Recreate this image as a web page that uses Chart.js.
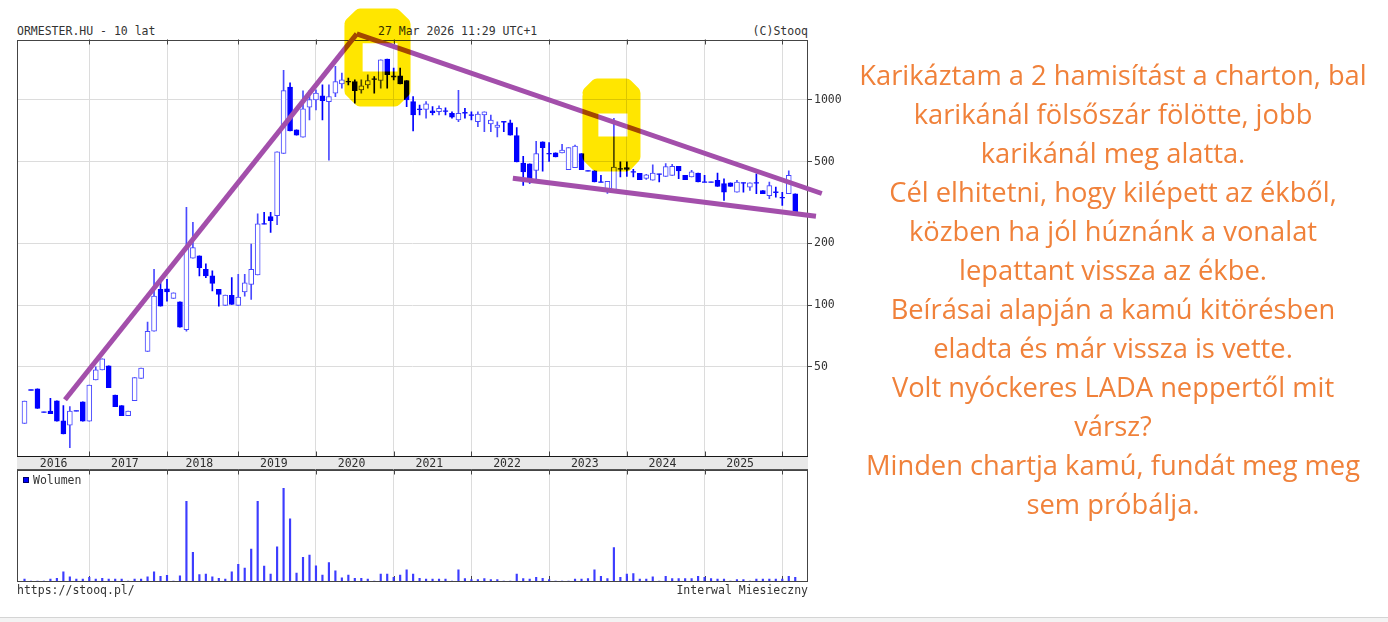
<!DOCTYPE html>
<html>
<head>
<meta charset="utf-8">
<script src="https://cdn.jsdelivr.net/npm/chart.js@4/dist/chart.umd.min.js"></script>
<style>
html, body { margin: 0; padding: 0; background: #fff; }
body { width: 1388px; height: 622px; position: relative; overflow: hidden; }
.mono { position: absolute; font-family: 'DejaVu Sans Mono', monospace; font-size: 11.5px; line-height: 14px; color: #333; white-space: pre; }
#band { position: absolute; left: 17px; top: 456px; width: 791px; height: 12px; background: #e8e8e8; border-top: 1px solid #555; border-bottom: 1px solid #555; }
#priceBox { position: absolute; left: 0; top: 0; width: 860px; height: 470px; mix-blend-mode: multiply; }
#volBox { position: absolute; left: 0; top: 460px; width: 860px; height: 140px; }
#volKey { position: absolute; left: 23px; top: 477px; width: 6px; height: 6px; background: #0000ff; border: 1px solid #000066; box-sizing: border-box; }
#note { position: absolute; left: 818px; top: 55px; width: 590px; text-align: center; color: #f0813a; font-family: 'Open Sans', sans-serif; font-size: 27.3px; line-height: 39px; }
#edge { position: absolute; left: 0; top: 617px; width: 1388px; height: 5px; background: #f3f3f3; border-top: 1px solid #d4d4d4; }
</style>
</head>
<body>
<div class="mono" style="left:17px;top:24px">ORMESTER.HU - 10 lat</div>
<div class="mono" style="left:378px;top:24px">27 Mar 2026 11:29 UTC+1</div>
<div class="mono" style="right:580px;top:24px">(C)Stooq</div>
<div id="band"></div>
<div id="priceBox"><canvas id="priceChart"></canvas></div>
<div id="volBox"><canvas id="volChart"></canvas></div>
<div id="volKey"></div>
<div class="mono" style="left:33px;top:473px">Wolumen</div>
<div class="mono" style="left:17px;top:583px">https://stooq.pl/</div>
<div class="mono" style="right:580px;top:583px">Interwal Miesieczny</div>
<div id="note">Karikáztam a 2 hamisítást a charton, bal<br>karikánál fölsőszár fölötte, jobb<br>karikánál meg alatta.<br>Cél elhitetni, hogy kilépett az ékből,<br>közben ha jól húznánk a vonalat<br>lepattant vissza az ékbe.<br>Beírásai alapján a kamú kitörésben<br>eladta és már vissza is vette.<br>Volt nyóckeres LADA neppertől mit<br>vársz?<br>Minden chartja kamú, fundát meg meg<br>sem próbálja.</div>
<div id="edge"></div>
<script>
// honapok (2018-bol egy honap hianyzik a stooq adatokban)
const months = [
  '2016-03','2016-04','2016-05','2016-06','2016-07','2016-08','2016-09','2016-10','2016-11','2016-12',
  '2017-01','2017-02','2017-03','2017-04','2017-05','2017-06','2017-07','2017-08','2017-09','2017-10','2017-11','2017-12',
  '2018-01','2018-02','2018-03','2018-04','2018-05','2018-06','2018-07','2018-09','2018-10','2018-11','2018-12',
  '2019-01','2019-02','2019-03','2019-04','2019-05','2019-06','2019-07','2019-08','2019-09','2019-10','2019-11','2019-12',
  '2020-01','2020-02','2020-03','2020-04','2020-05','2020-06','2020-07','2020-08','2020-09','2020-10','2020-11','2020-12',
  '2021-01','2021-02','2021-03','2021-04','2021-05','2021-06','2021-07','2021-08','2021-09','2021-10','2021-11','2021-12',
  '2022-01','2022-02','2022-03','2022-04','2022-05','2022-06','2022-07','2022-08','2022-09','2022-10','2022-11','2022-12',
  '2023-01','2023-02','2023-03','2023-04','2023-05','2023-06','2023-07','2023-08','2023-09','2023-10','2023-11','2023-12',
  '2024-01','2024-02','2024-03','2024-04','2024-05','2024-06','2024-07','2024-08','2024-09','2024-10','2024-11','2024-12',
  '2025-01','2025-02','2025-03','2025-04','2025-05','2025-06','2025-07','2025-08','2025-09','2025-10','2025-11','2025-12',
  '2026-01','2026-02','2026-03'
];

const openP = [
  26.5, 38.6, 39.1, 30.1, 30.5, 34.2, 27.3, 26.0, 30.5, 33.8,
  27.2, 43.2, 48.4, 50.6, 36.5, 32.4, 28.9, 34.2, 44.0, 59.5,
  74.6, 119.4, 120.2, 107.9, 103.8, 76.0, 169.4, 173.9, 149.6, 138.8,
  119.4, 99.8, 111.6, 99.8, 116.1, 126.3, 140.3, 248.7, 269.9, 272.9,
  548, 1154, 715, 659, 921, 1000, 1046, 981, 1079, 1198,
  1229, 1229, 1119, 1184, 1263, 1243, 1583, 1301, 1311, 1243,
  981, 900, 900, 884, 876, 881, 861, 798, 866, 844,
  783, 844, 763, 735, 783, 774, 670, 493, 488, 454,
  625, 548, 552, 552, 457, 467, 548, 451, 451, 398,
  362, 365, 461, 468, 446, 439, 415, 406, 435, 424,
  429, 475, 429, 421, 440, 398, 398, 406, 391, 394,
  355, 394, 376, 394, 362, 342, 355, 334, 349, 349
];
const highP = [
  34.1, 38.6, 39.1, 30.1, 35.1, 34.2, 32.4, 32.0, 30.5, 33.8,
  40.8, 50.0, 54.8, 50.6, 36.5, 32.4, 30.5, 44.4, 49.3, 82.6,
  149.6, 134, 133.6, 114.8, 103.8, 300, 253, 173.9, 158.9, 146.9,
  119.4, 111.9, 136.1, 141.4, 141.4, 198.6, 278.6, 283.4, 283.4, 558.3,
  1393, 1211, 715, 1107, 1113, 1119, 1184, 1184, 1456, 1352,
  1277, 1253, 1253, 1326, 1301, 1570, 1583, 1430, 1430, 1243,
  1038, 945, 981, 927, 935, 914, 876, 1113, 911, 876,
  876, 876, 844, 783, 783, 798, 733, 531, 488, 628,
  625, 619, 552, 608, 586, 602, 548, 451, 451, 429,
  401, 813, 499, 499, 459, 439, 434, 483, 435, 489,
  486, 475, 429, 454, 440, 429, 398, 440, 413, 394,
  406, 394, 394, 437, 362, 398, 376, 355, 451, 349
];
const lowP = [
  26.5, 38.6, 31.4, 30.1, 29.6, 27.2, 23.6, 20.2, 30.5, 27.2,
  27.2, 43.2, 48.4, 39.6, 32.0, 28.9, 28.9, 34.2, 44.0, 59.5,
  74.6, 98.9, 104.7, 107.9, 78.0, 74.6, 169.4, 138.8, 136.1, 117.2,
  98.9, 99.8, 100.7, 99.8, 110.7, 106.7, 140.3, 248.7, 225.9, 246.6,
  548, 707, 673, 659, 798, 893, 798, 508, 1038, 1141,
  1184, 963, 1079, 1141, 1079, 1141, 1141, 1253, 1198, 927,
  707, 844, 814, 844, 844, 844, 814, 783, 814, 798,
  741, 700, 700, 661, 700, 674, 499, 383, 392, 406,
  449, 502, 527, 552, 457, 467, 457, 451, 398, 398,
  350, 365, 421, 424, 421, 409, 410, 406, 399, 424,
  429, 413, 409, 421, 398, 398, 398, 379, 324, 379,
  355, 355, 362, 349, 349, 330, 336, 306, 349, 284
];
const closeP = [
  34.1, 38.6, 31.4, 30.1, 29.6, 27.2, 23.6, 30.5, 30.5, 27.2,
  40.8, 48.4, 54.8, 39.6, 32.0, 28.9, 30.5, 44.4, 49.3, 74.6,
  110.7, 98.9, 116.1, 114.8, 78.0, 191, 191, 152.4, 138.8, 127.7,
  112.8, 111.9, 100.7, 109.4, 128.5, 149.6, 248.7, 248.7, 258.2, 558.3,
  1110, 707, 673, 906, 1003, 1079, 992, 1038, 1229, 1253,
  1229, 1110, 1171, 1243, 1263, 1570, 1326, 1301, 1198, 1000,
  844, 900, 956, 866, 911, 881, 823, 861, 866, 844,
  854, 876, 798, 754, 783, 674, 499, 446, 407, 548,
  586, 548, 527, 569, 586, 595, 457, 451, 398, 398,
  401, 471, 461, 459, 446, 409, 431, 440, 435, 473,
  475, 451, 409, 446, 398, 398, 398, 379, 355, 379,
  398, 394, 394, 394, 349, 383, 355, 334, 429, 284
];
// wolumen, relativ egysegben (legnagyobb = 100)
const volume = [
  2, 0, 0, 0, 2, 3, 10, 4.5, 2, 2,
  4, 2, 3, 2, 2, 2, 0, 2, 2, 4.5,
  10, 5, 6, 0, 5.5, 86, 31, 7, 7.5, 4.5,
  3, 2, 10, 18, 14, 34.5, 86, 16, 7.5, 37,
  100, 67, 8.5, 25.5, 28, 16.5, 6.5, 20, 11, 3.5,
  6.5, 3, 3, 2, 0, 7.5, 7.5, 4, 6.5, 12,
  7.5, 3, 2, 2, 2, 2, 0, 12, 2.5, 1.5,
  1.5, 2.5, 1.5, 1.5, 0, 0, 7.5, 2.5, 2, 4,
  3, 1.5, 0, 0, 0, 2, 2, 2.5, 12, 5,
  2.5, 36, 4, 7.5, 8, 2, 2, 4.5, 0, 5,
  2.5, 2.5, 2.5, 2.5, 5, 4, 2.5, 2, 2, 0,
  1.5, 1.5, 0, 2, 2, 2, 2, 2, 5, 4
];

const yTicks = [50, 100, 200, 500, 1000];
const yearLabels = ['2016','2017','2018','2019','2020','2021','2022','2023','2024','2025'];

// kezzel rajzolt jelolesek (honap index, arfolyam)
const trendUpX = [6.25, 51.3],  trendUpY = [34.6, 2097];
const trendTopX = [51.3, 123.1], trendTopY = [2097, 350];
const trendLowX = [75.4, 122.2], trendLowY = [415, 271];
const circle1X = [50.4, 51.8, 57.2, 58.6, 58.6, 57.2, 51.8, 50.4, 50.4, 58.4, 58.4, 51.2, 51.2, 58.4, 58.4, 50.4];
const circle1Y = [2346, 2590, 2590, 2346, 1106, 1000, 1000, 1106, 2290, 2290, 2030, 2030, 1280, 1280, 1120, 1120];
const circle2X = [87.15, 88.4, 92.9, 94.1, 94.1, 92.9, 88.4, 87.15, 87.15, 94.1, 94.1, 87.6, 87.6, 94.1, 94.1, 87.15];
const circle2Y = [1082, 1183, 1183, 1082, 528, 482, 482, 528, 1046, 1046, 925, 925, 617, 617, 546, 546];

// --- segedek ---
const idx = months.map((m, i) => i);
const janIdx = idx.filter(i => months[i].endsWith('-01'));
const yearPos = yearLabels.map(y => {
  const ii = idx.filter(i => months[i].startsWith(y));
  return ii.reduce((a, b) => a + b, 0) / ii.length;
});
const xMin = -1.16, xMax = 120.97;
const monoFont = { family: 'DejaVu Sans Mono', size: 11.5 };
const isUp = i => closeP[i] > openP[i];
const flat = idx.filter(i => closeP[i] === openP[i]);
const solid = idx.filter(i => closeP[i] !== openP[i]);
const pts = (xs, ys) => xs.map((x, k) => ({ x, y: ys[k] }));

// keret + kis evjelolo vonalkak
const framePlugin = {
  id: 'frame',
  beforeDatasetsDraw(chart) {
    const { ctx, chartArea: a } = chart;
    const xs = chart.scales.x;
    ctx.save();
    ctx.strokeStyle = '#444';
    ctx.lineWidth = 1;
    ctx.strokeRect(Math.round(a.left) + 0.5, Math.round(a.top) + 0.5, Math.round(a.width) - 1, Math.round(a.height) - 1);
    ctx.beginPath();
    xs.ticks.forEach(t => {
      const px = Math.round(xs.getPixelForValue(t.value)) + 0.5;
      ctx.moveTo(px, a.top); ctx.lineTo(px, a.top + 5);
      ctx.moveTo(px, a.bottom); ctx.lineTo(px, a.bottom - 5);
    });
    ctx.stroke();
    ctx.restore();
  }
};

// kiemelo (szovegkiemelo) hatas: multiply
const blendPlugin = {
  id: 'blend',
  beforeDatasetDraw(chart, args) {
    const ds = chart.data.datasets[args.index];
    if (ds.blend) { chart.ctx.save(); chart.ctx.globalCompositeOperation = ds.blend; }
  },
  afterDatasetDraw(chart, args) {
    if (chart.data.datasets[args.index].blend) chart.ctx.restore();
  }
};

function xScale(extra) {
  return Object.assign({
    type: 'linear', min: xMin, max: xMax, offset: false,
    afterBuildTicks: s => { s.ticks = janIdx.map(v => ({ value: v })); },
    afterFit: s => { s.height = 0; },
    grid: { color: '#dcdcdc', offset: false, drawTicks: false },
    border: { display: false },
    ticks: { display: false }
  }, extra || {});
}

new Chart(document.getElementById('priceChart'), {
  type: 'bar',
  data: {
    datasets: [
      {
        type: 'line', data: pts(circle1X, circle1Y), borderColor: '#ffe600', borderWidth: 13,
        borderJoinStyle: 'round', borderCapStyle: 'round', pointRadius: 0, tension: 0,
        clip: false, blend: 'multiply', order: 0
      },
      {
        type: 'line', data: pts(circle2X, circle2Y), borderColor: '#ffe600', borderWidth: 13,
        borderJoinStyle: 'round', borderCapStyle: 'round', pointRadius: 0, tension: 0,
        clip: false, blend: 'multiply', order: 0
      },
      { type: 'line', data: pts(trendUpX, trendUpY), borderColor: '#a34fab', borderWidth: 5, pointRadius: 0, clip: false, order: 1 },
      { type: 'line', data: pts(trendTopX, trendTopY), borderColor: '#a34fab', borderWidth: 5, pointRadius: 0, clip: false, order: 1 },
      { type: 'line', data: pts(trendLowX, trendLowY), borderColor: '#a34fab', borderWidth: 5, pointRadius: 0, clip: false, order: 1 },
      {
        type: 'scatter', data: flat.map(i => ({ x: i, y: closeP[i] })),
        pointStyle: 'line', pointRadius: 2.6, borderColor: '#1010ff', borderWidth: 1.3, order: 3
      },
      {
        type: 'bar', data: solid.map(i => ({ x: i, y: [openP[i], closeP[i]] })),
        backgroundColor: solid.map(i => isUp(i) ? '#ffffff' : '#0000ff'),
        borderColor: solid.map(i => isUp(i) ? '#4646ff' : '#0000ff'),
        borderWidth: 1, borderSkipped: false, barThickness: 5, grouped: false, order: 4
      },
      {
        type: 'bar', data: idx.map(i => ({ x: i, y: [lowP[i], highP[i]] })),
        backgroundColor: idx.map(i => isUp(i) ? '#4a4aff' : '#0000ff'),
        barThickness: 1, grouped: false, order: 5
      }
    ]
  },
  options: {
    responsive: true, maintainAspectRatio: false, animation: false, events: [],
    layout: { padding: { left: 17, top: 39.5, right: 0, bottom: 0 } },
    plugins: { legend: { display: false }, tooltip: { enabled: false } },
    scales: {
      x: xScale(),
      xYear: {
        type: 'linear', position: 'bottom', min: xMin, max: xMax, offset: false, weight: 1,
        afterBuildTicks: s => { s.ticks = yearPos.map(v => ({ value: v })); },
        afterFit: s => { s.height = 13.5; },
        grid: { display: false, drawTicks: false },
        border: { display: false },
        ticks: { autoSkip: false, maxRotation: 0, padding: 1, color: '#333', font: monoFont,
                 callback: (v, i) => yearLabels[i] }
      },
      y: {
        type: 'logarithmic', position: 'right', min: 18.3, max: 1970,
        afterBuildTicks: s => { s.ticks = yTicks.map(v => ({ value: v })); },
        afterFit: s => { s.width = 52; },
        grid: { color: '#dcdcdc', tickColor: '#444', tickLength: 4 },
        border: { display: false },
        ticks: { color: '#333', font: monoFont, padding: 2, callback: v => String(v) }
      }
    }
  },
  plugins: [framePlugin, blendPlugin]
});

new Chart(document.getElementById('volChart'), {
  type: 'bar',
  data: {
    datasets: [{
      data: volume.map((v, i) => ({ x: i, y: v })),
      backgroundColor: '#3c3cff', barThickness: 1.5, grouped: false
    }]
  },
  options: {
    responsive: true, maintainAspectRatio: false, animation: false, events: [],
    layout: { padding: { left: 17, top: 9.5, right: 52, bottom: 19 } },
    plugins: { legend: { display: false }, tooltip: { enabled: false } },
    scales: {
      x: xScale(),
      y: { type: 'linear', min: 0, max: 120.3, display: false }
    }
  },
  plugins: [framePlugin]
});
</script>
</body>
</html>
